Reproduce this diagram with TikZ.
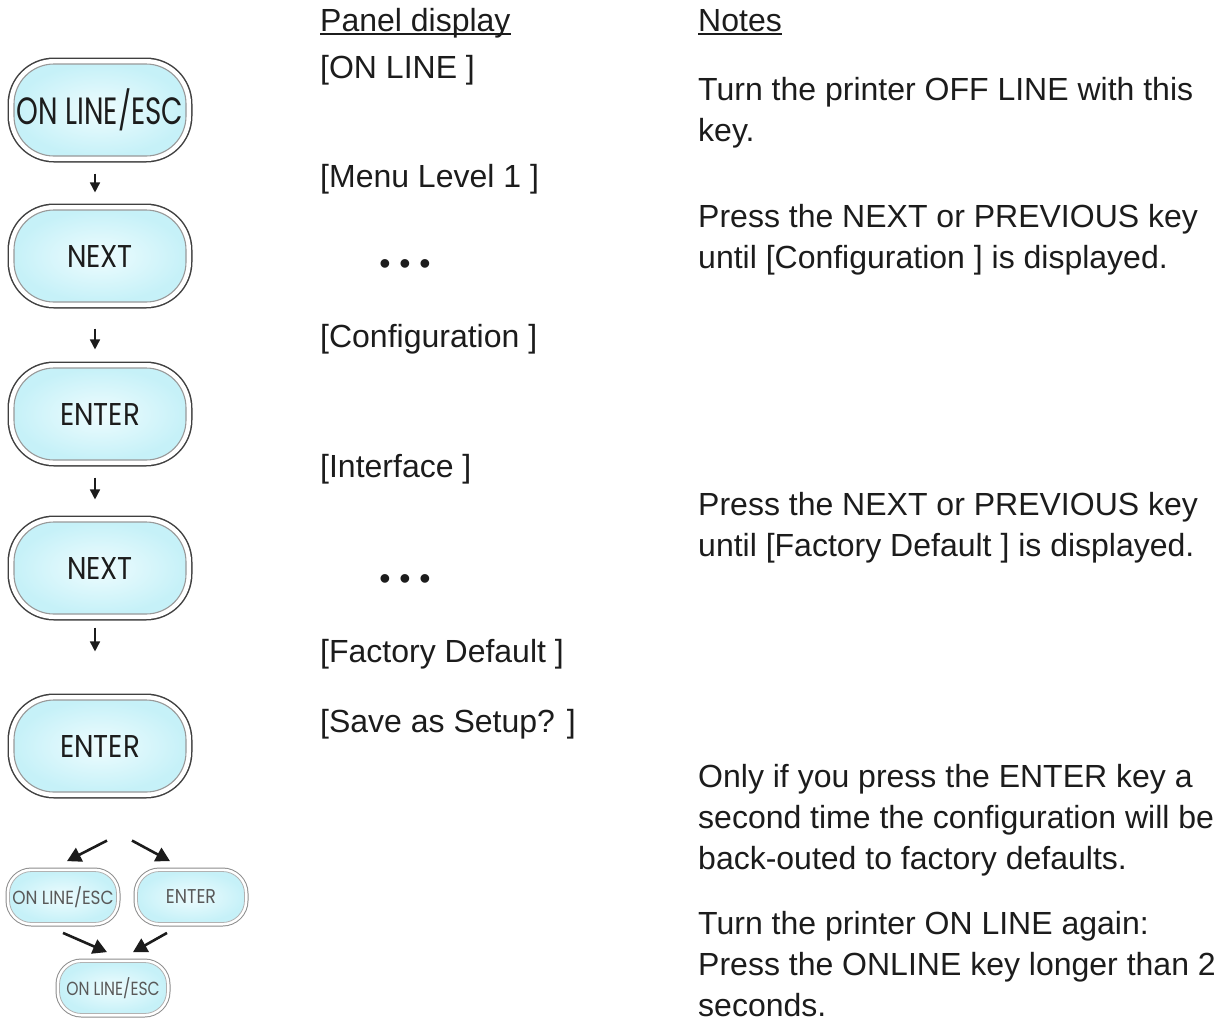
\documentclass[tikz,border=0pt]{standalone}
\usepackage{fontspec}
\setmainfont{Liberation Sans}
\newfontfamily\keyface{Poppins}
\usepackage{graphicx}
\usetikzlibrary{arrows.meta, positioning}

\definecolor{keyfill}{RGB}{198,241,248}
\definecolor{keyglow}{RGB}{238,252,254}
\definecolor{ink}{RGB}{28,28,28}

\newcommand{\keylabel}[2][0.88]{\scalebox{#1}[1]{#2}}

\begin{document}
\begin{tikzpicture}[
    x=1pt, y=-1pt,
    bigkey/.style={rectangle, rounded corners=40pt, minimum width=172pt,
                   minimum height=92pt, inner sep=0pt, draw=black!40, line width=1.1pt,
                   shading=radial, inner color=keyglow, outer color=keyfill,
                   preaction={draw=black!75, line width=13pt},
                   preaction={draw=white, line width=10pt},
                   text=ink, font=\keyface\fontsize{31.5}{32}\selectfont},
    smallkey/.style={rectangle, rounded corners=22pt, minimum width=107pt,
                     minimum height=51pt, inner sep=0pt, draw=black!30, line width=0.8pt,
                     shading=radial, inner color=keyglow, outer color=keyfill,
                     preaction={draw=black!45, line width=8pt},
                     preaction={draw=white, line width=6pt},
                     text=black!65, font=\keyface\fontsize{19}{20}\selectfont},
    disp/.style={anchor=base west, inner sep=0pt, text=ink,
                 font=\fontsize{32}{41}\selectfont},
    note/.style={disp, align=left},
    dots/.style={inner sep=0pt, text=ink, font=\fontsize{32}{41}\selectfont},
    uline/.style={line width=1.6pt, ink},
    flow/.style={-{Triangle[length=10pt, width=10pt]}, line width=1.6pt, ink},
    fork/.style={-{Triangle[length=14pt, width=15pt]}, line width=2.6pt, ink}
]
    \useasboundingbox (0,0) rectangle (1229,1021);

    % Key sequence
    \node[bigkey, font=\keyface\fontsize{38}{38}\selectfont] (k1) at (100,110) {\keylabel[0.73]{ON LINE/ESC}};
    \node[bigkey] (k2) at (100,256) {\keylabel{NEXT}};
    \node[bigkey] (k3) at (100,414) {\keylabel{ENTER}};
    \node[bigkey] (k4) at (100,568) {\keylabel{NEXT}};
    \node[bigkey] (k5) at (100,746) {\keylabel{ENTER}};

    \foreach \a/\b/\s/\e in {k1/k2/17/17, k2/k3/26/18, k3/k4/17/22, k4/k5/13/48} {
        \draw[flow] ([xshift=-5pt, yshift=-\s pt]\a.south) -- ([xshift=-5pt, yshift=\e pt]\b.north);
    }

    % Choice: escape or confirm
    \node[smallkey] (s1) at (63,897) {\keylabel[0.89]{ON LINE/ESC}};
    \node[smallkey, font=\keyface\fontsize{20}{20}\selectfont] (s2) at (191,897) {\keylabel[0.87]{ENTER}};
    \node[smallkey] (s3) at (113,988) {\keylabel[0.82]{ON LINE/ESC}};

    \draw[fork] ([xshift=7pt, yshift=-48pt]k5.south) -- ([xshift=4pt, yshift=10pt]s1.north);
    \draw[fork] ([xshift=32pt, yshift=-48pt]k5.south) -- ([xshift=-21pt, yshift=10pt]s2.north);
    \draw[fork] ([yshift=-10pt]s1.south) -- ([xshift=-6pt, yshift=10pt]s3.north);
    \draw[fork] ([xshift=-24pt, yshift=-10pt]s2.south) -- ([xshift=20pt, yshift=10pt]s3.north);

    % Panel display column
    \node[disp] (hpanel) at (320,31) {Panel display};
    \draw[uline] ([yshift=-3pt]hpanel.base west) -- ([yshift=-3pt]hpanel.base east);
    \node[disp] (d1) at (320,78) {[ON LINE ]};
    \node[disp] (d2) at (320,187) {[Menu Level 1 ]};
    \node[dots] (dots1) at (405,267) {• • •};
    \node[disp] (d3) at (320,347) {[Configuration ]};
    \node[disp] (d4) at (320,477) {[Interface ]};
    \node[dots] (dots2) at (405,582) {• • •};
    \node[disp] (d5) at (320,662) {[Factory Default ]};
    \node[disp] (d6) at (320,732) {[Save as Setup? ]};

    % Notes column (anchored on the last line)
    \node[disp] (hnotes) at (698,31) {Notes};
    \draw[uline] ([yshift=-3pt]hnotes.base west) -- ([yshift=-3pt]hnotes.base east);
    \node[note] (n1) at (698,141) {Turn the printer OFF LINE with this\\key.};
    \node[note] (n2) at (698,268) {Press the NEXT or PREVIOUS key\\until [Configuration ] is displayed.};
    \node[note] (n3) at (698,556) {Press the NEXT or PREVIOUS key\\until [Factory Default ] is displayed.};
    \node[note] (n4) at (698,869) {Only if you press the ENTER key a\\second time the configuration will be\\back-outed to factory defaults.};
    \node[note] (n5) at (698,1016) {Turn the printer ON LINE again:\\Press the ONLINE key longer than 2\\seconds.};
\end{tikzpicture}
\end{document}
